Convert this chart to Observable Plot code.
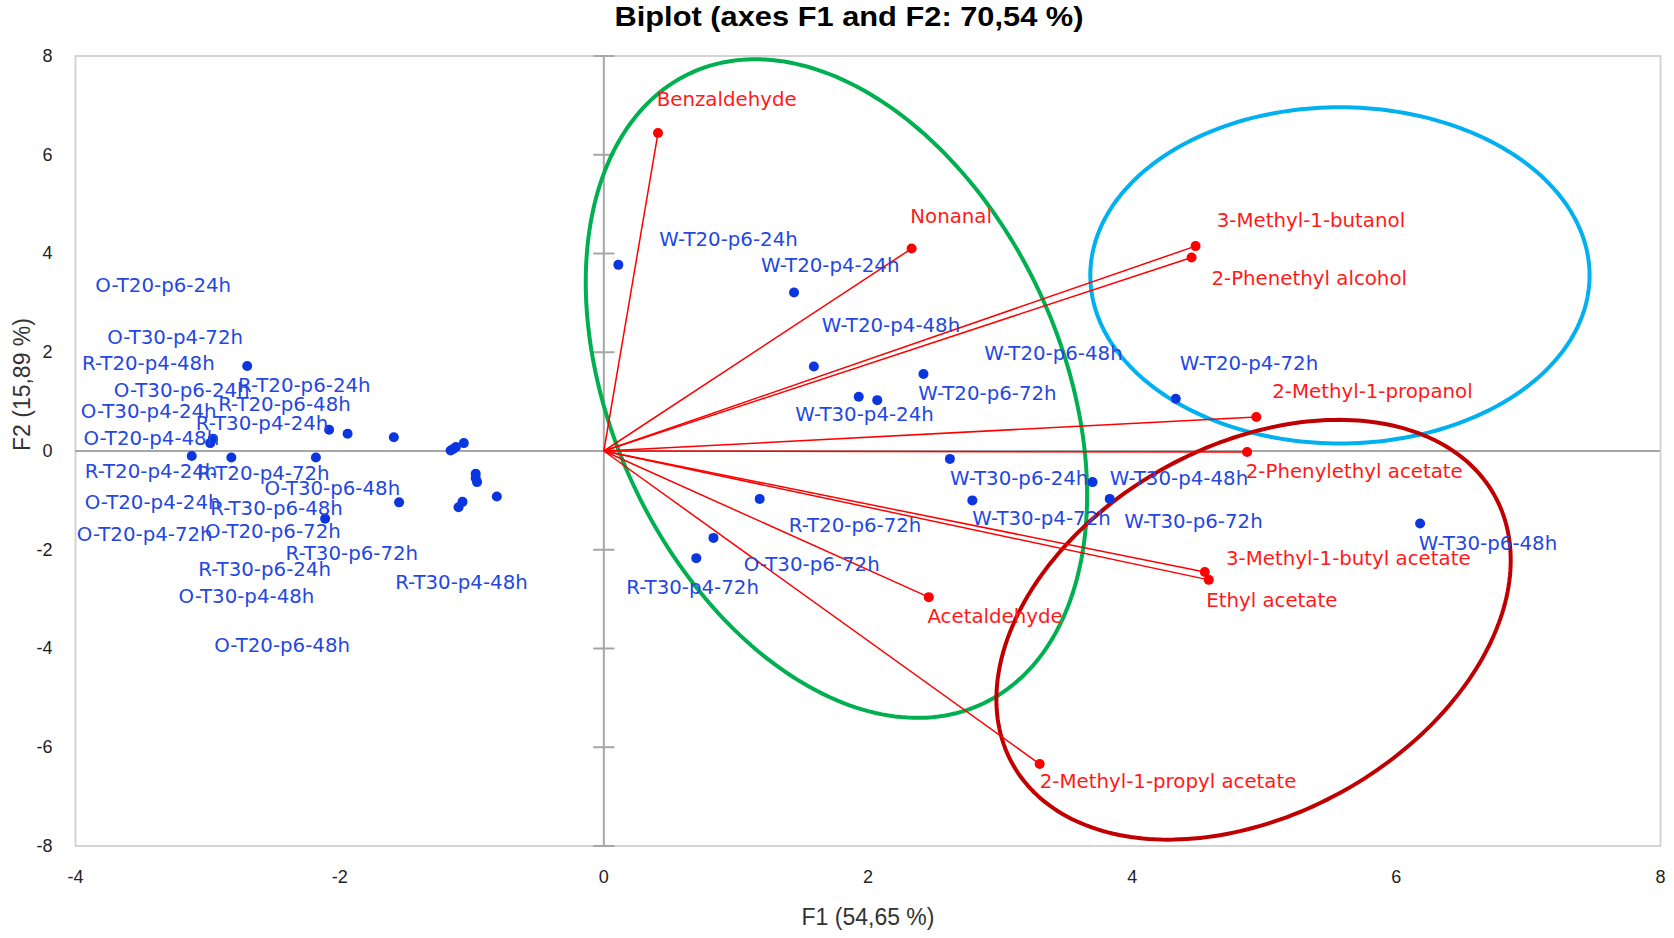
<!DOCTYPE html>
<html>
<head>
<meta charset="utf-8">
<script src="https://cdn.jsdelivr.net/npm/d3@7"></script>
<script src="https://cdn.jsdelivr.net/npm/@observablehq/plot@0.6"></script>
<style>
  html, body { margin: 0; padding: 0; background: #fff; }
  #wrap { width: 1674px; height: 938px; position: relative; overflow: hidden; }
  #title { height: 36px; width: 1674px; position: relative; }
  #title span { position: absolute; left: 849px; top: 17px; transform: translate(-50%, -50%) scaleX(1.1);
    font-family: "Liberation Sans", Arial, sans-serif; font-weight: bold; font-size: 28px; color: #000; white-space: nowrap; }
</style>
</head>
<body>
<div id="wrap">
  <div id="title"><span>Biplot (axes F1 and F2: 70,54 %)</span></div>
  <div id="chart"></div>
</div>
<script>
// ---- Data ----
const xTicks = [-4, -2, 0, 2, 4, 6, 8];
const yTicks = [-8, -6, -4, -2, 0, 2, 4, 6, 8];
const xTitle = "F1 (54,65 %)";
const yTitle = "F2 (15,89 %)";

// Observations (blue)
const obsNames = [
  "W-T20-p6-24h","W-T20-p4-24h","W-T20-p4-48h","W-T20-p6-48h","W-T30-p4-24h",
  "W-T20-p6-72h","W-T30-p6-24h","W-T30-p4-72h","W-T30-p4-48h","W-T30-p6-72h",
  "W-T20-p4-72h","W-T30-p6-48h","R-T20-p6-72h","O-T30-p6-72h","R-T30-p4-72h",
  "R-T20-p4-48h","R-T20-p6-24h","R-T20-p6-48h","R-T30-p4-24h","O-T30-p6-24h",
  "O-T20-p4-48h","R-T20-p4-24h","R-T20-p4-72h","O-T30-p6-48h","O-T20-p6-24h",
  "O-T30-p4-72h","O-T30-p4-24h","O-T20-p4-24h","O-T20-p4-72h","O-T20-p6-72h",
  "O-T30-p4-48h","O-T20-p6-48h","R-T30-p6-72h","R-T30-p4-48h","R-T30-p6-24h",
  "R-T30-p6-48h"
];
const obsF1 = [
  0.11, 1.44, 1.59, 2.42, 1.93,
  2.07, 2.62, 2.79, 3.70, 3.83,
  4.33, 6.18, 1.18, 0.83, 0.70,
  -2.70, -2.08, -1.94, -1.59, -2.96,
  -2.98, -3.12, -2.82, -2.18, -1.16,
  -1.12, -1.06, -1.14, -0.97, -0.96,
  -0.97, -0.81, -1.55, -1.07, -1.10,
  -2.11
];
const obsF2 = [
  3.77, 3.21, 1.71, 1.56, 1.10,
  1.03, -0.16, -1.00, -0.63, -0.97,
  1.06, -1.47, -0.97, -1.76, -2.17,
  1.72, 0.43, 0.35, 0.28, 0.25,
  0.16, -0.10, -0.13, -0.13, 0.01,
  0.08, 0.16, 0.04, -0.46, -0.63,
  -0.55, -0.92, -1.04, -1.03, -1.14,
  -1.37
];
// label anchor positions (data units) as placed in the original chart
const obsLabelF1 = [
  0.42, 1.19, 1.65, 2.88, 1.45,
  2.38, 2.62, 2.79, 3.83, 3.94,
  4.36, 6.17, 1.40, 1.06, 0.17,
  -3.95, -2.77, -2.92, -3.09, -3.71,
  -3.94, -3.93, -3.08, -2.57, -3.85,
  -3.76, -3.96, -3.93, -3.99, -3.02,
  -3.22, -2.95, -2.41, -1.58, -3.07,
  -2.98
];
const obsLabelF2 = [
  4.28, 3.76, 2.53, 1.97, 0.74,
  1.17, -0.56, -1.38, -0.56, -1.43,
  1.77, -1.88, -1.51, -2.31, -2.77,
  1.77, 1.32, 0.93, 0.56, 1.23,
  0.26, -0.41, -0.45, -0.76, 3.35,
  2.29, 0.80, -1.04, -1.69, -1.64,
  -2.96, -3.94, -2.08, -2.66, -2.40,
  -1.17
];

// Variables (red vectors)
const varNames = [
  "Benzaldehyde","Nonanal","3-Methyl-1-butanol","2-Phenethyl alcohol","2-Methyl-1-propanol",
  "2-Phenylethyl acetate","3-Methyl-1-butyl acetate","Ethyl acetate","Acetaldehyde","2-Methyl-1-propyl acetate"
];
const varF1 = [0.41, 2.33, 4.48, 4.45, 4.94, 4.87, 4.55, 4.58, 2.46, 3.30];
const varF2 = [6.44, 4.10, 4.15, 3.92, 0.69, -0.02, -2.45, -2.61, -2.96, -6.34];
const varLabelF1 = [0.40, 2.32, 4.64, 4.60, 5.06, 4.86, 4.71, 4.56, 2.45, 3.30];
const varLabelF2 = [7.11, 4.74, 4.67, 3.50, 1.21, -0.41, -2.18, -3.03, -3.35, -6.70];

// Group ellipses: centre and two conjugate semi-axis vectors (data units)
const ellNames = ["green", "blue", "red"];
const ellCx = [1.761, 5.573, 4.919];
const ellCy = [1.265, 3.557, -3.62];
const ellAx = [1.898, 1.890, 1.947];
const ellAy = [-2.158, 0, 1.408];
const ellBx = [0, 0, 0];
const ellBy = [-6.311, 3.405, -4.011];
const ellColors = ["#00b050", "#00b0f0", "#c00000"];

// ---- Build tables ----
const obs = obsNames.map((n, i) => ({name: n, f1: obsF1[i], f2: obsF2[i], lx: obsLabelF1[i], ly: obsLabelF2[i]}));
const vars = varNames.map((n, i) => ({name: n, f1: varF1[i], f2: varF2[i], lx: varLabelF1[i], ly: varLabelF2[i]}));
const ellPts = [];
ellNames.forEach((g, k) => {
  for (let j = 0; j < 240; j++) {
    const t = 2 * Math.PI * j / 240;
    ellPts.push({g, x: ellCx[k] + ellAx[k] * Math.cos(t) + ellBx[k] * Math.sin(t),
                    y: ellCy[k] + ellAy[k] * Math.cos(t) + ellBy[k] * Math.sin(t)});
  }
});

const dash = {draw(ctx, size) { const w = Math.sqrt(size); ctx.moveTo(-w, 0); ctx.lineTo(w, 0); }};
const fmt = d => String(d);
const labelFont = "DejaVu Sans";

const chart = Plot.plot({
  width: 1674,
  height: 902,
  marginLeft: 75,
  marginRight: 14,
  marginTop: 19.5,
  marginBottom: 92.5,
  style: {fontFamily: "Liberation Sans, Arial, sans-serif", background: "#fff", overflow: "visible"},
  x: {domain: [-4, 8]},
  y: {domain: [-8, 8]},
  marks: [
    Plot.frame({stroke: "#d4d4d4", strokeWidth: 2}),
    Plot.ruleX([0], {stroke: "#a6a6a6", strokeWidth: 2}),
    Plot.ruleY([0], {stroke: "#a6a6a6", strokeWidth: 2}),
    Plot.dot(yTicks, {x: () => 0, y: d => d, symbol: dash, r: 6, stroke: "#a6a6a6", strokeWidth: 2}),
    Plot.axisX({ticks: xTicks, tickSize: 0, tickPadding: 24, tickFormat: fmt, fontSize: 18, label: null, fill: "#222"}),
    Plot.axisY({ticks: yTicks, tickSize: 0, tickPadding: 23, tickFormat: fmt, fontSize: 18, label: null, fill: "#222"}),
    Plot.text([xTitle], {frameAnchor: "bottom", dy: 79, text: d => d, fontSize: 23, fill: "#333"}),
    Plot.text([yTitle], {frameAnchor: "left", dx: -53, rotate: -90, text: d => d, fontSize: 23, fill: "#333"}),
    Plot.line(ellPts, {x: "x", y: "y", z: "g", stroke: d => ellColors[ellNames.indexOf(d.g)], strokeWidth: 4, curve: "linear-closed"}),
    Plot.link(vars, {x1: () => 0, y1: () => 0, x2: "f1", y2: "f2", stroke: "#ff0000", strokeWidth: 1.5}),
    Plot.dot(vars, {x: "f1", y: "f2", r: 5, fill: "#ff0000"}),
    Plot.dot(obs, {x: "f1", y: "f2", r: 5, fill: "#0a36e0"}),
    Plot.text(vars, {x: "lx", y: "ly", text: "name", textAnchor: "start", fill: "#ff1a1a", fontSize: 19.8, fontFamily: labelFont}),
    Plot.text(obs, {x: "lx", y: "ly", text: "name", textAnchor: "start", fill: "#2447e0", fontSize: 19.8, fontFamily: labelFont})
  ]
});
document.getElementById("chart").appendChild(chart);
</script>
</body>
</html>
